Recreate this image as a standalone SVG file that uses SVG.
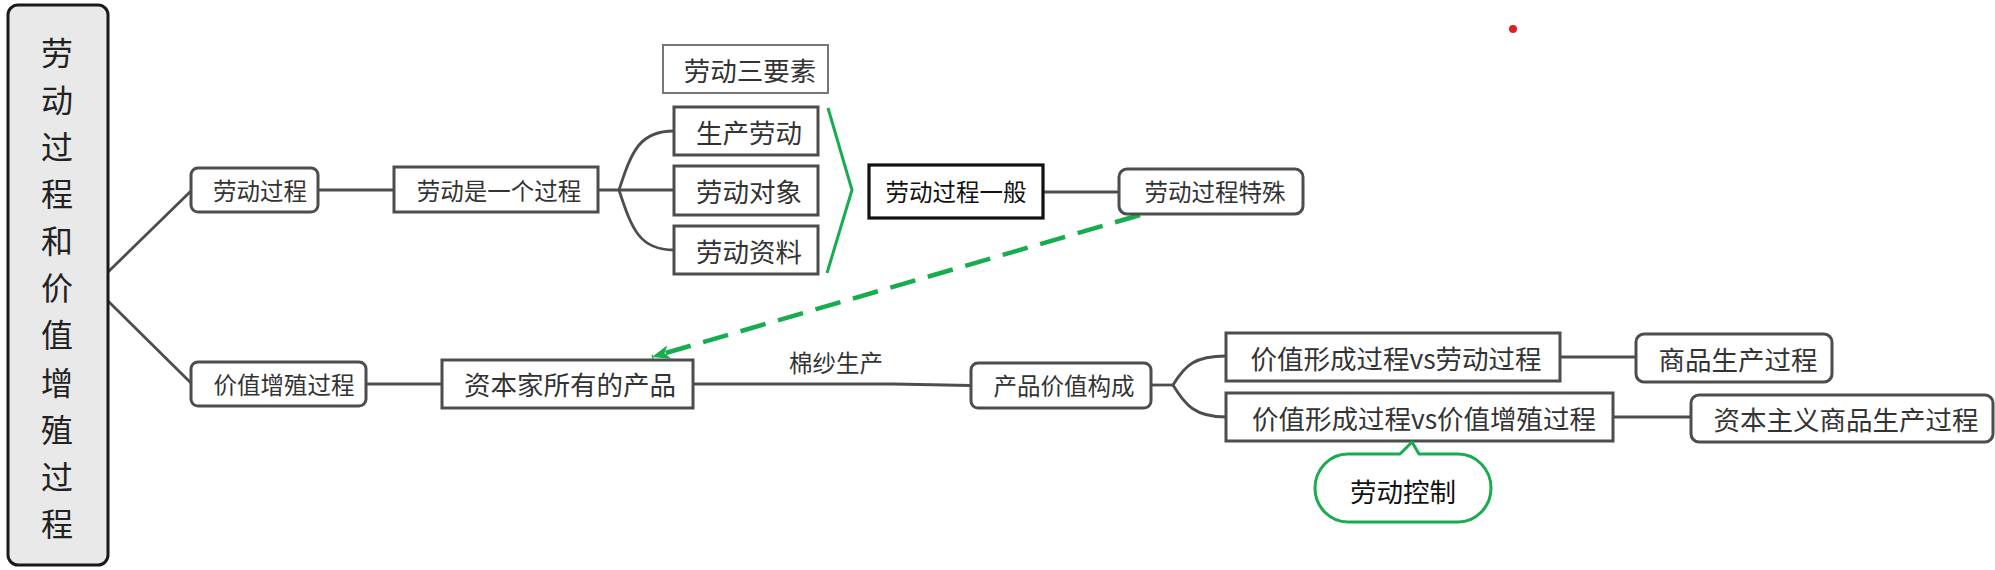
<svg xmlns="http://www.w3.org/2000/svg" width="1995" height="570" viewBox="0 0 1995 570">
<style>
text{font-family:"Microsoft YaHei","Noto Sans CJK SC",sans-serif;fill:#333;text-anchor:middle;dominant-baseline:central}
.sq{fill:#fff;stroke:#4d4d4d;stroke-width:3}
.rd{fill:#fff;stroke:#4d4d4d;stroke-width:3}
.ln{fill:none;stroke:#4d4d4d;stroke-width:2.8}
.f24{font-size:23.5px}
.f27{font-size:26.5px}
</style>
<defs>
<marker id="ga" markerUnits="userSpaceOnUse" markerWidth="20" markerHeight="16" refX="18" refY="7" orient="auto">
<path d="M0,0 L18,7 L0,14 L5,7 z" fill="#17ad4f"/>
</marker>
</defs>
<circle cx="1513" cy="29" r="4" fill="#e02020"/>
<g id="connectors">
<path class="ln" d="M108,272 L192,190"/>
<path class="ln" d="M108,301 L192,384"/>
<path class="ln" d="M318,190 H394"/>
<path class="ln" d="M598,190 H674"/>
<path class="ln" d="M619,190 C632,150 640,131 674,131"/>
<path class="ln" d="M619,190 C632,230 640,250 674,250"/>
<path class="ln" d="M1043,192 H1119"/>
<path class="ln" d="M366,384 H442"/>
<path class="ln" d="M693,384 H893"/>
<path d="M893,382.5 L971,384 L971,387 L893,385.5 z" fill="#4d4d4d"/>
<path class="ln" d="M1151,385 H1173"/>
<path class="ln" d="M1173,385 C1185,365 1195,356 1226,356"/>
<path class="ln" d="M1173,385 C1185,405 1195,417 1226,417"/>
<path class="ln" d="M1560,357 H1636"/>
<path class="ln" d="M1613,417 H1691"/>
<path d="M828,108 L852,190 L827,273" fill="none" stroke="#17ad4f" stroke-width="3"/>
<path d="M1140,215 L652,357" fill="none" stroke="#17ad4f" stroke-width="4.5" stroke-dasharray="26,13" marker-end="url(#ga)"/>
<text x="836" y="362" class="f24">棉纱生产</text>
</g>
<g id="root">
<rect x="8" y="5" width="100" height="560" rx="10" fill="#e9e9e9" stroke="#1a1a1a" stroke-width="3"/>
<text style="font-size:32px;fill:#222">
<tspan x="57" y="51">劳</tspan><tspan x="57" y="98">动</tspan><tspan x="57" y="145">过</tspan><tspan x="57" y="192">程</tspan><tspan x="57" y="239">和</tspan><tspan x="57" y="286">价</tspan><tspan x="57" y="333">值</tspan><tspan x="57" y="381">增</tspan><tspan x="57" y="428">殖</tspan><tspan x="57" y="475">过</tspan><tspan x="57" y="522">程</tspan>
</text>
</g>
<g id="n-labor-process">
<rect class="rd" x="191" y="168" width="127" height="44" rx="7"/>
<text x="260" y="190" class="f24">劳动过程</text>
</g>
<g id="n-value-proc">
<rect class="rd" x="191" y="362" width="175" height="44" rx="7"/>
<text x="284" y="384" class="f24">价值增殖过程</text>
</g>
<g id="n-labor-is-process">
<rect class="sq" x="394" y="167" width="204" height="45"/>
<text x="499" y="190" class="f24">劳动是一个过程</text>
</g>
<g id="n-three">
<rect x="663" y="45" width="165" height="48" fill="#fff" stroke="#777" stroke-width="2"/>
<text x="750" y="69" class="f27">劳动三要素</text>
</g>
<g id="n-prod-labor">
<rect class="sq" x="674" y="107" width="144" height="48"/>
<text x="749" y="131" class="f27">生产劳动</text>
</g>
<g id="n-labor-obj">
<rect class="sq" x="674" y="166" width="144" height="49"/>
<text x="749" y="190" class="f27">劳动对象</text>
</g>
<g id="n-labor-means">
<rect class="sq" x="674" y="226" width="144" height="48"/>
<text x="749" y="250" class="f27">劳动资料</text>
</g>
<g id="n-general">
<rect x="869" y="165" width="174" height="53" fill="#fff" stroke="#111" stroke-width="3.2"/>
<text x="956" y="191" class="f24" style="fill:#111">劳动过程一般</text>
</g>
<g id="n-special">
<rect class="rd" x="1119" y="169" width="184" height="45" rx="8"/>
<text x="1215" y="191" class="f24">劳动过程特殊</text>
</g>
<g id="n-capitalist">
<rect class="sq" x="442" y="360" width="251" height="48"/>
<text x="570" y="383" class="f27">资本家所有的产品</text>
</g>
<g id="n-composition">
<rect class="rd" x="971" y="363" width="180" height="45" rx="7"/>
<text x="1064" y="385" class="f24">产品价值构成</text>
</g>
<g id="n-vs-labor">
<rect class="sq" x="1226" y="333" width="334" height="48"/>
<text x="1396" y="357" class="f27">价值形成过程vs劳动过程</text>
</g>
<g id="n-vs-value">
<rect class="sq" x="1226" y="393" width="387" height="48"/>
<text x="1424" y="417" class="f27">价值形成过程vs价值增殖过程</text>
</g>
<g id="n-commodity">
<rect class="rd" x="1636" y="334" width="196" height="48" rx="8"/>
<text x="1738" y="358" class="f27">商品生产过程</text>
</g>
<g id="n-capitalist-commodity">
<rect class="rd" x="1691" y="395" width="302" height="47" rx="8"/>
<text x="1846" y="418" class="f27">资本主义商品生产过程</text>
</g>
<g id="n-labor-control">
<path d="M1348,454 H1400 L1412,442 L1419,454 H1458 A33,34 0 0 1 1458,522 H1348 A33,34 0 0 1 1348,454 z" fill="#fff" stroke="#17ad4f" stroke-width="3" stroke-linejoin="round"/>
<text x="1403" y="490" class="f27" style="fill:#111">劳动控制</text>
</g>
</svg>
